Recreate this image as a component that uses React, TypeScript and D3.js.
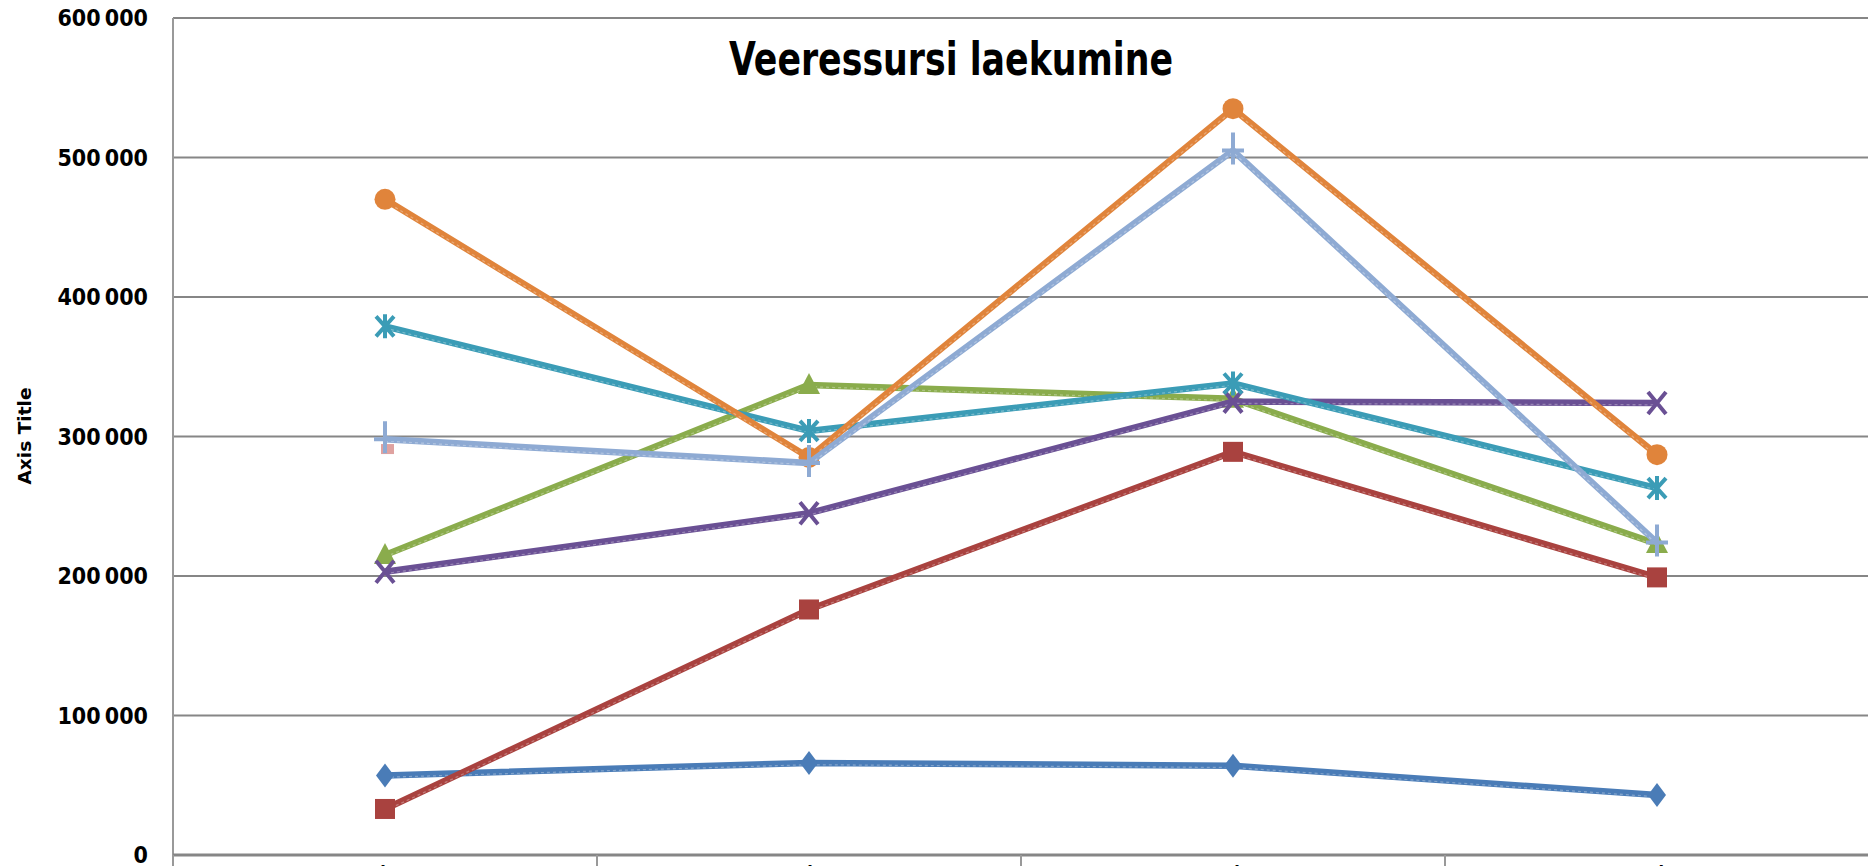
import * as d3 from 'd3';

const categories = ['I kv', 'II kv', 'III kv', 'IV kv'];
const yTicks = [0, 100000, 200000, 300000, 400000, 500000, 600000];

const blueSeries = [57000, 66000, 64000, 43000];
const redSeries = [33000, 176000, 289000, 199000];
const greenSeries = [215000, 337000, 327000, 223000];
const purpleSeries = [203000, 245000, 325000, 324000];
const tealSeries = [379000, 304000, 338000, 263000];
const orangeSeries = [470000, 285000, 535000, 287000];
const lightBlueSeries = [298000, 281000, 505000, 224000];
const pinkSeries = [291000, null, null, null];

type Marker = 'diamond' | 'square' | 'triangle' | 'x' | 'star' | 'circle' | 'plus' | 'smallSquare';

const series: { name: string; values: (number | null)[]; color: string; marker: Marker }[] = [
    { name: 'Series8', values: pinkSeries, color: '#d9928f', marker: 'smallSquare' },
    { name: 'Series1', values: blueSeries, color: '#4a7cb7', marker: 'diamond' },
    { name: 'Series2', values: redSeries, color: '#a9423f', marker: 'square' },
    { name: 'Series3', values: greenSeries, color: '#8aac4c', marker: 'triangle' },
    { name: 'Series4', values: purpleSeries, color: '#6a5094', marker: 'x' },
    { name: 'Series5', values: tealSeries, color: '#3b9cb6', marker: 'star' },
    { name: 'Series6', values: orangeSeries, color: '#e0843b', marker: 'circle' },
    { name: 'Series7', values: lightBlueSeries, color: '#8eaad3', marker: 'plus' },
];

const width = 1868;
const height = 866;
const margin = { top: 18, right: -1, bottom: 11, left: 173 };

const MarkerShape = ({ type, cx, cy, color }: { type: Marker; cx: number; cy: number; color: string }) => {
    switch (type) {
        case 'diamond':
            return <path transform={`translate(${cx},${cy})`} d="M0,-12L9,0L0,12L-9,0Z" fill={color} />;
        case 'square':
            return <rect x={cx - 10} y={cy - 10} width={20} height={20} fill={color} />;
        case 'smallSquare':
            return <rect x={cx - 4} y={cy - 5} width={13} height={10} fill={color} opacity={0.85} />;
        case 'triangle':
            return <path transform={`translate(${cx},${cy})`} d="M0,-12L11,9L-11,9Z" fill={color} />;
        case 'circle':
            return <circle cx={cx} cy={cy} r={10.5} fill={color} />;
        case 'x':
            return (
                <path transform={`translate(${cx},${cy})`} d="M-9,-11L9,11M-9,11L9,-11"
                    stroke={color} strokeWidth={4} fill="none" />
            );
        case 'star':
            return (
                <path transform={`translate(${cx},${cy})`} d="M-9,-10L9,10M-9,10L9,-10M0,-12L0,12"
                    stroke={color} strokeWidth={4} fill="none" />
            );
        case 'plus':
            return (
                <path transform={`translate(${cx},${cy})`} d="M-11,0L11,0M0,-18L0,14"
                    stroke={color} strokeWidth={4} fill="none" />
            );
    }
};

export default function App() {
    const x = d3
        .scaleBand<string>()
        .domain(categories)
        .range([margin.left, width - margin.right]);

    const y = d3
        .scaleLinear()
        .domain([0, 600000])
        .range([height - margin.bottom, margin.top]);

    const line = d3
        .line<number | null>()
        .defined((d) => d !== null)
        .x((_, i) => (x(categories[i]) as number) + x.bandwidth() / 2)
        .y((d) => y(d as number));

    const fmt = (v: number) => d3.format(',')(v).replace(/,/g, '\u2009');

    return (
        <svg width={width} height={height} style={{ position: 'absolute', left: 0, top: 0, background: '#fff' }}>
            {/* gridlines */}
            {yTicks.slice(1).map((t) => (
                <line key={t} x1={margin.left} x2={width} y1={y(t)} y2={y(t)} stroke="#868686" strokeWidth={2} />
            ))}
            {/* y axis */}
            <line x1={margin.left} x2={margin.left} y1={y(600000)} y2={height - margin.bottom + 11} stroke="#999" strokeWidth={2} />
            {yTicks.map((t) => (
                <text key={t} x={148} y={y(t) + 8} textAnchor="end" fontFamily="'DejaVu Sans Condensed', 'DejaVu Sans', sans-serif"
                    fontWeight="bold" fontSize={23} fill="#000">
                    {fmt(t)}
                </text>
            ))}
            {/* x axis */}
            <line x1={margin.left} x2={width} y1={y(0)} y2={y(0)} stroke="#868686" strokeWidth={3} />
            {categories.map((c, i) => (
                <g key={c}>
                    <line x1={(x(c) as number) + x.bandwidth()} x2={(x(c) as number) + x.bandwidth()}
                        y1={y(0)} y2={height} stroke="#999" strokeWidth={2} />
                    {i === 0 && <line x1={x(c) as number} x2={x(c) as number} y1={y(0)} y2={height} stroke="#999" strokeWidth={2} />}
                    <text x={(x(c) as number) + x.bandwidth() / 2} y={y(0) + 24} textAnchor="middle"
                        fontFamily="'DejaVu Sans Condensed', sans-serif" fontWeight="bold" fontSize={18} fill="#000">
                        {c}
                    </text>
                </g>
            ))}
            {/* axis title */}
            <text transform={`translate(31,436) rotate(-90)`} textAnchor="middle"
                fontFamily="'DejaVu Sans Condensed', sans-serif" fontWeight="bold" fontSize={17}
                textLength={97} lengthAdjust="spacingAndGlyphs" fill="#000">
                Axis Title
            </text>
            {/* title */}
            <text x={951} y={75} textAnchor="middle" fontFamily="'DejaVu Sans Condensed', sans-serif"
                fontWeight="bold" fontSize={46} textLength={444} lengthAdjust="spacingAndGlyphs" fill="#000">
                Veeressursi laekumine
            </text>
            {/* series */}
            {series.map((s) => (
                <g key={s.name}>
                    <path d={line(s.values) || ''} fill="none" stroke={s.color} strokeWidth={6.5} strokeLinejoin="round" />
                    <path d={line(s.values) || ''} fill="none" stroke="#fff" strokeOpacity={0.3} strokeWidth={1.3}
                        strokeDasharray="3 3" transform="translate(0,1.8)" />
                    {s.values.map((v, i) =>
                        v === null ? null : (
                            <MarkerShape key={i} type={s.marker} color={s.color}
                                cx={(x(categories[i]) as number) + x.bandwidth() / 2} cy={y(v)} />
                        )
                    )}
                </g>
            ))}
        </svg>
    );
}
